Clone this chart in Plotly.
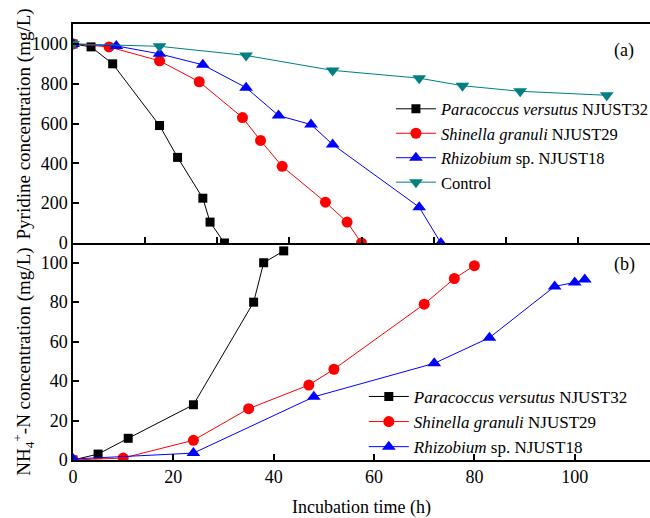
import plotly.graph_objects as go

# ---- data: pyridine degradation (panel a) ----
para_t_a = [0, 5, 11, 24, 29, 36, 38, 42]
para_y_a = [1000, 985, 900, 590, 430, 225, 105, 0]
shin_t_a = [0, 10, 24, 35, 47, 52, 58, 70, 76, 80]
shin_y_a = [1000, 985, 915, 810, 630, 515, 385, 205, 105, 0]
rhiz_t_a = [0, 12, 24, 36, 48, 57, 66, 72, 96, 102]
rhiz_y_a = [1000, 990, 950, 895, 780, 640, 595, 495, 180, 0]
ctrl_t_a = [0, 24, 48, 72, 96, 108, 124, 148]
ctrl_y_a = [1000, 988, 942, 867, 828, 790, 762, 742]

# ---- data: NH4+-N release (panel b) ----
para_t_b = [0, 5, 11, 24, 36, 38, 42]
para_y_b = [0, 3, 11, 28, 80, 100, 106]
shin_t_b = [0, 10, 24, 35, 47, 52, 70, 76, 80]
shin_y_b = [0, 1, 10, 26, 38, 46, 79, 92, 98.5]
rhiz_t_b = [0, 24, 48, 72, 83, 96, 100, 102]
rhiz_y_b = [0.5, 3.5, 32, 49, 62, 88, 90, 91.5]

names = ["<i>Paracoccus versutus</i> NJUST32",
         "<i>Shinella granuli</i> NJUST29",
         "<i>Rhizobium</i> sp. NJUST18",
         "Control"]
colors = ["#000000", "#FF0000", "#0000FF", "#008080"]
symbols = ["square", "circle", "triangle-up", "triangle-down"]
sizes = [9, 11, 12, 12]

FONT = "Liberation Serif"

fig = go.Figure()

top = [(para_t_a, para_y_a), (shin_t_a, shin_y_a), (rhiz_t_a, rhiz_y_a), (ctrl_t_a, ctrl_y_a)]
for i, (t, y) in enumerate(top):
    fig.add_trace(go.Scatter(
        x=t, y=y, mode="lines+markers", name=names[i],
        xaxis="x2", yaxis="y2", legend="legend",
        line=dict(color=colors[i], width=1),
        marker=dict(symbol=symbols[i], color=colors[i], size=sizes[i]),
    ))

bottom = [(para_t_b, para_y_b), (shin_t_b, shin_y_b), (rhiz_t_b, rhiz_y_b)]
for i, (t, y) in enumerate(bottom):
    fig.add_trace(go.Scatter(
        x=t, y=y, mode="lines+markers", name=names[i],
        xaxis="x", yaxis="y", legend="legend2",
        line=dict(color=colors[i], width=1),
        marker=dict(symbol=symbols[i], color=colors[i], size=sizes[i]),
    ))

split = 217 / 436

axis_common = dict(showline=True, linecolor="black", linewidth=1.5,
                   showgrid=False, zeroline=False, ticks="inside",
                   tickcolor="black", tickwidth=1.5, ticklen=6,
                   tickfont=dict(family=FONT, size=18, color="black"))

fig.update_layout(
    width=650, height=518,
    margin=dict(l=73, r=0, t=24, b=58, autoexpand=False),
    paper_bgcolor="white", plot_bgcolor="white",
    font=dict(family=FONT, size=18, color="black"),
    xaxis=dict(domain=[0, 1], range=[0, 115], tickvals=[0, 20, 40, 60, 80, 100],
               anchor="y", mirror=False,
               title=dict(text="Incubation time (h)", font=dict(family=FONT, size=18), standoff=19),
               **axis_common),
    yaxis=dict(domain=[0, split], range=[0, 110], tickvals=[0, 20, 40, 60, 80, 100],
               anchor="x", **axis_common),
    xaxis2=dict(domain=[0, 1], range=[0, 160], tickvals=[20, 40, 60, 80, 100, 120, 140],
                anchor="y2", mirror=True, showticklabels=False,
                **axis_common),
    yaxis2=dict(domain=[split, 1], range=[0, 1100], tickvals=[0, 200, 400, 600, 800, 1000],
                anchor="x2", **axis_common),
    legend=dict(x=0.551, y=0.845, xanchor="left", yanchor="top",
                bgcolor="rgba(0,0,0,0)", font=dict(family=FONT, size=16.5),
                tracegroupgap=0, itemwidth=40),
    legend2=dict(x=0.504, y=0.186, xanchor="left", yanchor="top",
                 bgcolor="rgba(0,0,0,0)", font=dict(family=FONT, size=17),
                 tracegroupgap=0, itemwidth=40),
    showlegend=True,
    annotations=[
        dict(text="(a)", xref="paper", yref="paper", x=0.975, y=0.967,
             showarrow=False, font=dict(family=FONT, size=18)),
        dict(text="(b)", xref="paper", yref="paper", x=0.978, y=0.449,
             showarrow=False, font=dict(family=FONT, size=18)),
        dict(text="Pyridine concentration (mg/L)", textangle=-90,
             xref="paper", yref="paper", x=-0.085, y=(518 - 58 - 123.5) / 436,
             xanchor="center", yanchor="middle", showarrow=False,
             font=dict(family=FONT, size=19)),
        dict(text="NH<sub>4</sub><sup>+</sup>-N concentration (mg/L)", textangle=-90,
             xref="paper", yref="paper", x=-0.087, y=(518 - 58 - 362) / 436,
             xanchor="center", yanchor="middle", showarrow=False,
             font=dict(family=FONT, size=19)),
    ],
)

fig.write_html("out.html")
